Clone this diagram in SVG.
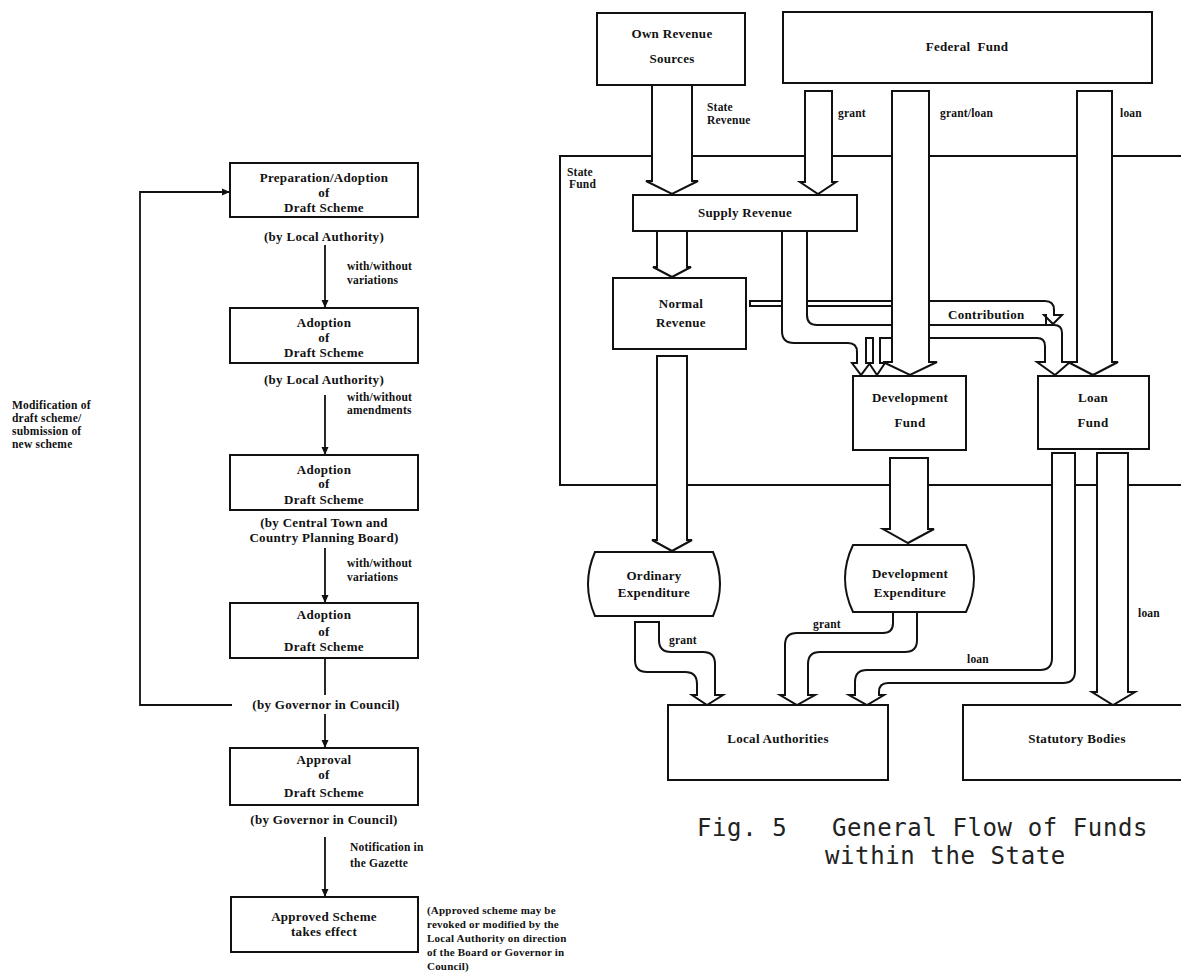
<svg xmlns="http://www.w3.org/2000/svg" width="1181" height="979" viewBox="0 0 1181 979">
<defs>
<style>
.bx{fill:#fff;stroke:#111;stroke-width:2}
.ln{fill:none;stroke:#111;stroke-width:1.8}
.ar{fill:#fff;stroke:#111;stroke-width:2}
.t{font-family:"Liberation Serif","Times New Roman",serif;font-weight:bold;font-size:13px;fill:#111;letter-spacing:0.3px}
.c{text-anchor:middle}
.s{font-size:11.5px;letter-spacing:0.2px}
.n{font-size:11px}
.cap{font-family:"DejaVu Sans Mono","Liberation Mono",monospace;font-size:24px;letter-spacing:0.6px;fill:#222}
</style>
<marker id="ah" markerWidth="8" markerHeight="8" refX="8" refY="4" orient="auto" markerUnits="userSpaceOnUse"><path d="M0,0.5 L8,4 L0,7.5 Z" fill="#111"/></marker>
</defs>
<rect width="1181" height="979" fill="#fff"/>

<!-- State Fund frame -->
<g id="state-fund">
<path class="ln" style="stroke-width:2" d="M1181,156 H560 V485 H1181"/>
<text class="t s" x="567" y="176">State</text>
<text class="t s" x="569" y="188">Fund</text>
</g>

<g id="connectors">
<!-- left flowchart -->
<path class="ln" d="M325,245 V308" marker-end="url(#ah)"/>
<path class="ln" d="M325,395 V455" marker-end="url(#ah)"/>
<path class="ln" d="M325,548 V603" marker-end="url(#ah)"/>
<path class="ln" d="M325,658 V695"/>
<path class="ln" d="M325,714 V748" marker-end="url(#ah)"/>
<path class="ln" d="M325,837 V897" marker-end="url(#ah)"/>
<path class="ln" d="M232,705 H140 V192 H230" marker-end="url(#ah)"/>

<!-- right diagram block arrows -->
<path class="ar" d="M652,85 V181 H646 L672,194 L698,181 H692 V85 Z"/>
<path class="ar" d="M805,91 V182 H800 L818,194 L836,182 H832 V91 Z"/>
<path class="ar" d="M657,231 V267 H653 L672,277 L691,267 H687 V231 Z"/>
<path class="ar" d="M750,301 H1045 Q1054,301 1054,310 V315 H1062 L1053,324 L1044,315 H1046 V325 H910 V306 H750 Z"/>
<path class="ar" d="M782,231 V331 Q782,343 794,343 H848 Q857,343 857,352 V363 H852 L861,375 L870,363 H866 V338 H873 V363 H869 L877,375 L885,363 H880 V338 H1037 Q1045,338 1045,346 V362 H1037 L1055,375 L1070,362 H1062 V333 Q1062,325 1054,325 H817 Q807,325 807,315 V231 Z"/>
<path class="ar" d="M892,91 V362 H883 L910,375 L937,362 H929 V91 Z"/>
<path class="ar" d="M1077,91 V362 H1068 L1093,375 L1118,362 H1112 V91 Z"/>
<path class="ar" d="M657,356 V540 H652 L672,551 L692,540 H687 V356 Z"/>
<path class="ar" d="M890,458 V529 H883 L908,543 L934,529 H928 V458 Z"/>
<path class="ar" d="M1097,453 V692 H1092 L1113,705 L1135,692 H1128 V453 Z"/>
<path class="ar" d="M635,622 H659 V640 Q659,652 671,652 H703 Q715,652 715,664 V695 H723 L707,705 L692,695 H697 V684 Q697,672 685,672 H647 Q635,672 635,660 Z"/>
<path class="ar" d="M893,612 V623 Q893,633 883,633 H797 Q785,633 785,645 V695 H780 L797,705 L815,695 H808 V664 Q808,652 820,652 H905 Q917,652 917,640 V612 Z"/>
<path class="ar" d="M1052,453 V658 Q1052,670 1040,670 H867 Q855,670 855,682 V695 H849 L867,705 L884,695 H879 V692 Q879,683 888,683 H1063 Q1075,683 1075,671 V453 Z"/>

<!-- connector labels -->
<text class="t s" x="347" y="270">with/without</text>
<text class="t s" x="347" y="284">variations</text>
<text class="t s" x="347" y="401">with/without</text>
<text class="t s" x="347" y="414">amendments</text>
<text class="t s" x="347" y="567">with/without</text>
<text class="t s" x="347" y="581">variations</text>
<text class="t s" x="350" y="851">Notification in</text>
<text class="t s" x="350" y="867">the Gazette</text>
<text class="t s" x="12" y="409">Modification of</text>
<text class="t s" x="12" y="422">draft scheme/</text>
<text class="t s" x="12" y="435">submission of</text>
<text class="t s" x="12" y="448">new scheme</text>
<text class="t s" x="707" y="111">State</text>
<text class="t s" x="707" y="124">Revenue</text>
<text class="t s" x="838" y="117">grant</text>
<text class="t s" x="940" y="117">grant/loan</text>
<text class="t s" x="1120" y="117">loan</text>
<text class="t" x="948" y="319">Contribution</text>
<text class="t s" x="669" y="644">grant</text>
<text class="t s" x="813" y="628">grant</text>
<text class="t s" x="967" y="663">loan</text>
<text class="t s" x="1138" y="617">loan</text>
</g>

<!-- left flowchart nodes -->
<g id="prep-adoption">
<rect class="bx" x="230" y="163" width="188" height="54"/>
<text class="t c" x="324" y="182">Preparation/Adoption</text>
<text class="t c" x="324" y="197">of</text>
<text class="t c" x="324" y="212">Draft Scheme</text>
<text class="t c" x="324" y="241">(by Local Authority)</text>
</g>
<g id="adoption-local">
<rect class="bx" x="230" y="308" width="188" height="55"/>
<text class="t c" x="324" y="327">Adoption</text>
<text class="t c" x="324" y="342">of</text>
<text class="t c" x="324" y="357">Draft Scheme</text>
<text class="t c" x="324" y="384">(by Local Authority)</text>
</g>
<g id="adoption-board">
<rect class="bx" x="230" y="455" width="188" height="55"/>
<text class="t c" x="324" y="474">Adoption</text>
<text class="t c" x="324" y="488">of</text>
<text class="t c" x="324" y="504">Draft Scheme</text>
<text class="t c" x="324" y="527">(by Central Town and</text>
<text class="t c" x="324" y="542">Country Planning Board)</text>
</g>
<g id="adoption-governor">
<rect class="bx" x="230" y="603" width="188" height="55"/>
<text class="t c" x="324" y="619">Adoption</text>
<text class="t c" x="324" y="636">of</text>
<text class="t c" x="324" y="651">Draft Scheme</text>
<text class="t c" x="326" y="709">(by Governor in Council)</text>
</g>
<g id="approval">
<rect class="bx" x="230" y="748" width="188" height="57"/>
<text class="t c" x="324" y="764">Approval</text>
<text class="t c" x="324" y="779">of</text>
<text class="t c" x="324" y="797">Draft Scheme</text>
<text class="t c" x="324" y="824">(by Governor in Council)</text>
</g>
<g id="approved">
<rect class="bx" x="231" y="897" width="187" height="55"/>
<text class="t c" x="324" y="921">Approved Scheme</text>
<text class="t c" x="324" y="936">takes effect</text>
<text class="t s n" x="427" y="914">(Approved scheme may be</text>
<text class="t s n" x="427" y="928">revoked or modified by the</text>
<text class="t s n" x="427" y="942">Local Authority on direction</text>
<text class="t s n" x="427" y="956">of the Board or Governor in</text>
<text class="t s n" x="427" y="970">Council)</text>
</g>

<!-- right diagram nodes -->
<g id="own-revenue">
<rect class="bx" x="597" y="13" width="148" height="72"/>
<text class="t c" x="672" y="38">Own Revenue</text>
<text class="t c" x="672" y="63">Sources</text>
</g>
<g id="federal-fund">
<rect class="bx" x="783" y="12" width="369" height="71"/>
<text class="t c" x="967" y="51" xml:space="preserve">Federal  Fund</text>
</g>
<g id="supply-revenue">
<rect class="bx" x="633" y="195" width="224" height="36"/>
<text class="t c" x="745" y="217">Supply Revenue</text>
</g>
<g id="normal-revenue">
<rect class="bx" x="613" y="278" width="133" height="71"/>
<text class="t c" x="681" y="308">Normal</text>
<text class="t c" x="681" y="327">Revenue</text>
</g>
<g id="development-fund">
<rect class="bx" x="853" y="376" width="113" height="74"/>
<text class="t c" x="910" y="402">Development</text>
<text class="t c" x="910" y="427">Fund</text>
</g>
<g id="loan-fund">
<rect class="bx" x="1038" y="376" width="111" height="73"/>
<text class="t c" x="1093" y="402">Loan</text>
<text class="t c" x="1093" y="427">Fund</text>
</g>
<g id="ordinary-expenditure">
<path class="bx" d="M595,552 H713 Q727,584 713,616 H595 Q581,584 595,552 Z"/>
<text class="t c" x="654" y="580">Ordinary</text>
<text class="t c" x="654" y="597">Expenditure</text>
</g>
<g id="development-expenditure">
<path class="bx" d="M853,545 H966 Q982,578.5 966,612 H853 Q837,578.5 853,545 Z"/>
<text class="t c" x="910" y="578">Development</text>
<text class="t c" x="910" y="597">Expenditure</text>
</g>
<g id="local-authorities">
<rect class="bx" x="668" y="705" width="220" height="75"/>
<text class="t c" x="778" y="743">Local Authorities</text>
</g>
<g id="statutory-bodies">
<rect class="bx" x="963" y="705" width="240" height="75"/>
<text class="t c" x="1077" y="743">Statutory Bodies</text>
</g>

<g id="caption">
<text class="cap"><tspan x="697" y="836">Fig. 5</tspan><tspan x="832" y="836">General Flow of Funds</tspan><tspan x="825" y="864">within the State</tspan></text>
</g>
</svg>
